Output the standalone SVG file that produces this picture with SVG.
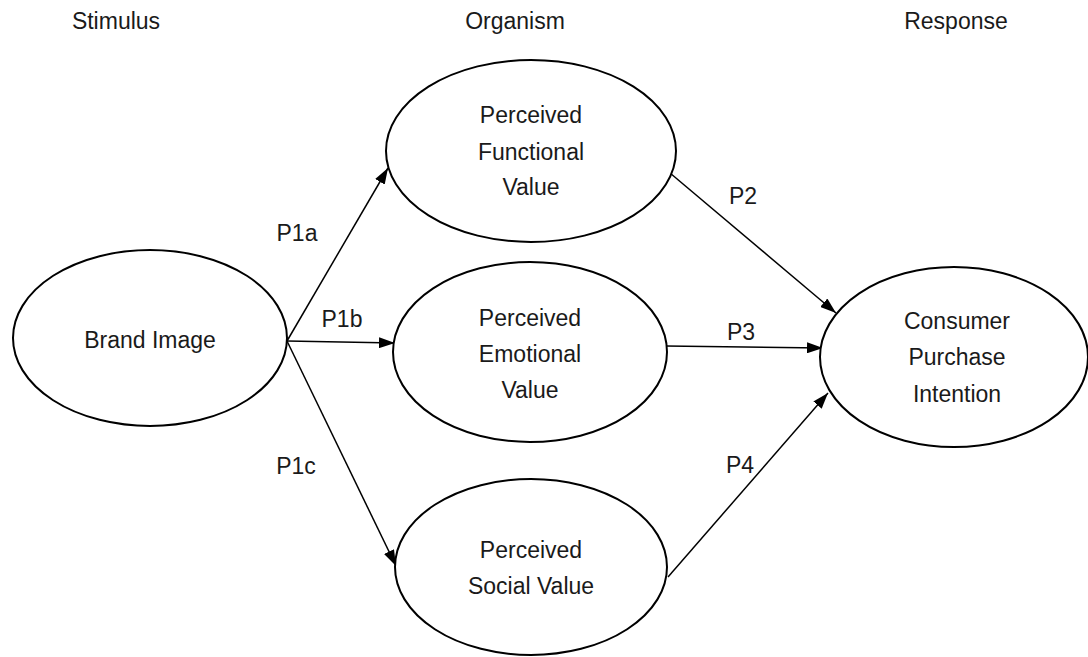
<svg xmlns="http://www.w3.org/2000/svg" width="1088" height="657" viewBox="0 0 1088 657">
<style>
.node ellipse{fill:#fff;stroke:#000;stroke-width:2}
text{font-family:"Liberation Sans",Arial,sans-serif;font-size:23px;fill:#1a1a1a;text-anchor:middle}
.conn line{stroke:#000;stroke-width:1.5}
</style>
<defs>
<marker id="ah" viewBox="0 0 16 11" refX="16" refY="5.5" markerWidth="16" markerHeight="11" markerUnits="userSpaceOnUse" orient="auto">
<path d="M0,0 L16,5.5 L0,11 Z" fill="#000"/>
</marker>
</defs>
<rect width="1088" height="657" fill="#fff"/>
<g id="headers">
<text x="116" y="29">Stimulus</text>
<text x="515" y="29">Organism</text>
<text x="956" y="29">Response</text>
</g>
<g class="conn" id="connectors">
<line x1="287" y1="341" x2="388" y2="168" marker-end="url(#ah)"/>
<line x1="287" y1="341" x2="395" y2="343" marker-end="url(#ah)"/>
<line x1="287" y1="341" x2="396" y2="566" marker-end="url(#ah)"/>
<line x1="670" y1="173" x2="836" y2="313" marker-end="url(#ah)"/>
<line x1="666" y1="346" x2="823" y2="348" marker-end="url(#ah)"/>
<line x1="668" y1="577" x2="828" y2="393" marker-end="url(#ah)"/>
<text x="297" y="241">P1a</text>
<text x="342" y="327">P1b</text>
<text x="296" y="474">P1c</text>
<text x="743" y="204">P2</text>
<text x="741" y="340">P3</text>
<text x="740" y="473">P4</text>
</g>
<g class="node" id="brand-image">
<ellipse cx="150" cy="338" rx="137" ry="88"/>
<text x="150" y="348">Brand Image</text>
</g>
<g class="node" id="functional-value">
<ellipse cx="531" cy="151" rx="145" ry="91"/>
<text x="531" y="123">Perceived</text>
<text x="531" y="160">Functional</text>
<text x="531" y="195">Value</text>
</g>
<g class="node" id="emotional-value">
<ellipse cx="530" cy="352" rx="137" ry="90"/>
<text x="530" y="326">Perceived</text>
<text x="530" y="362">Emotional</text>
<text x="530" y="398">Value</text>
</g>
<g class="node" id="social-value">
<ellipse cx="531" cy="567" rx="136" ry="88"/>
<text x="531" y="558">Perceived</text>
<text x="531" y="594">Social Value</text>
</g>
<g class="node" id="purchase-intention">
<ellipse cx="954" cy="357" rx="134" ry="90"/>
<text x="957" y="329">Consumer</text>
<text x="957" y="365">Purchase</text>
<text x="957" y="402">Intention</text>
</g>
</svg>
